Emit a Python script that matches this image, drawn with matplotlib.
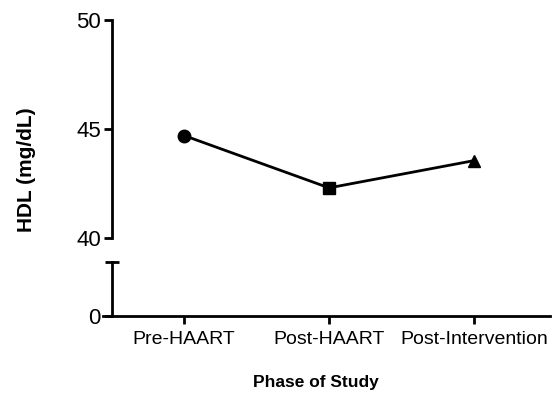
import matplotlib
matplotlib.use("Agg")
import matplotlib.pyplot as plt
import numpy as np

plt.rcParams['font.family'] = ['Liberation Sans', 'DejaVu Sans']

phases = ['Pre-HAART', 'Post-HAART', 'Post-Intervention']
hdl = [44.7, 42.3, 43.55]
markers = ['o', 's', '^']

W, H = 553, 419
fig = plt.figure(figsize=(W / 100, H / 100), dpi=100)

# pixel boxes -> figure fractions
def box(x0, y0, x1, y1):
    return [x0 / W, 1 - y1 / H, (x1 - x0) / W, (y1 - y0) / H]

ax_top = fig.add_axes(box(112, 20, 550, 238))
ax_bot = fig.add_axes(box(103, 262, 550, 316))

x = np.arange(len(phases))
lw = 2.0

ax_top.plot(x, hdl, color='black', lw=lw, zorder=2)
for xi, yi, m in zip(x, hdl, markers):
    ax_top.plot(xi, yi, marker=m, color='black', ms=9, ls='none', zorder=3)

ax_top.set_xlim(-0.497, 2.524)
ax_top.set_ylim(40, 50)
ax_top.set_yticks([40, 45, 50])
ax_top.set_xticks([])
for s in ['top', 'right', 'bottom']:
    ax_top.spines[s].set_visible(False)
ax_top.spines['left'].set_linewidth(lw)
ax_top.tick_params(axis='y', length=6, width=lw, labelsize=16, pad=2)
ax_top.patch.set_alpha(0)

# lower segment of broken axis
ax_bot.set_xlim(-0.559, 2.524)
ax_bot.set_ylim(0, 1)
ax_bot.set_yticks([0])
ax_bot.set_xticks(x)
ax_bot.set_xticklabels(phases)
for s in ['top', 'right']:
    ax_bot.spines[s].set_visible(False)
ax_bot.spines['left'].set_position(('axes', 9 / 447))
ax_bot.spines['left'].set_linewidth(lw)
ax_bot.spines['bottom'].set_linewidth(lw)
ax_bot.tick_params(axis='y', length=6, width=lw, labelsize=16, pad=2)
ax_bot.tick_params(axis='x', length=6, width=lw, labelsize=14, pad=5)
ax_bot.patch.set_alpha(0)
# cap on the break
ax_bot.plot([9 / 447 - 0.016, 9 / 447 + 0.016], [1, 1], transform=ax_bot.transAxes,
            color='black', lw=lw, clip_on=False, solid_capstyle='butt')

fig.text(26 / W, 1 - 170 / H, 'HDL (mg/dL)', rotation=90, ha='center', va='center',
         fontsize=15, fontweight='bold')
fig.text(316 / W, 1 - 382 / H, 'Phase of Study', ha='center', va='center',
         fontsize=12.5, fontweight='bold')

fig.savefig('out.png', dpi=100)
